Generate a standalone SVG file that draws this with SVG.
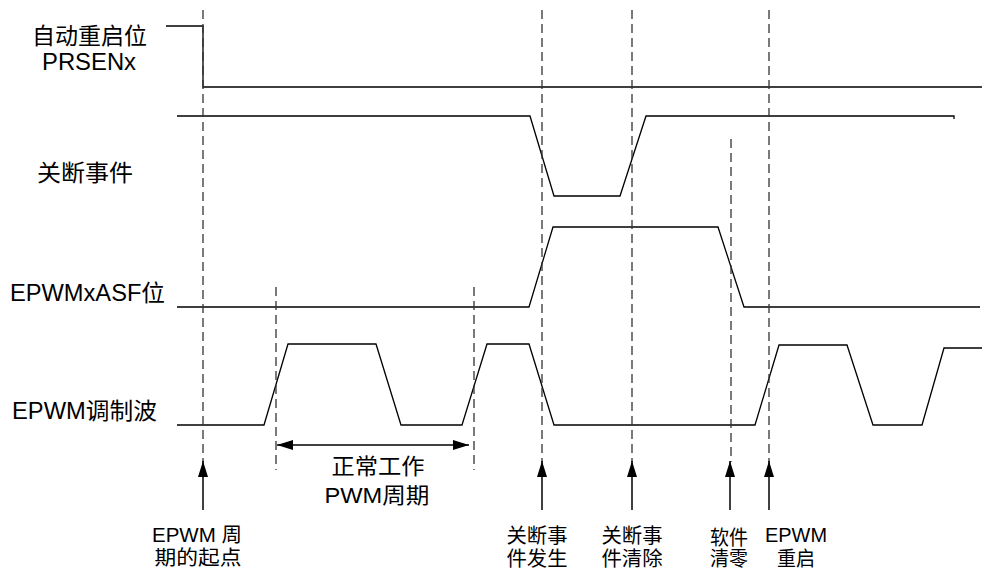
<svg xmlns="http://www.w3.org/2000/svg" width="982" height="570" viewBox="0 0 982 570">
<style>
.sig{fill:none;stroke:#000;stroke-width:1.3;stroke-linejoin:miter}
.dash{fill:none;stroke:#333;stroke-width:1.3;stroke-dasharray:9,5}
.arr{fill:none;stroke:#000;stroke-width:1.5}
text{font-family:"Liberation Sans","Noto Sans CJK SC",sans-serif;fill:#000}
.lbl{font-size:23px}
.bot{font-size:20px;text-anchor:middle}
.mid{font-size:22px;text-anchor:middle}
</style>
<defs>
<marker id="ah" viewBox="0 0 16 10" refX="16" refY="5" markerWidth="16" markerHeight="10" orient="auto-start-reverse" markerUnits="userSpaceOnUse"><path d="M0,0 L16,5 L0,10 z" fill="#000"/></marker>
</defs>
<rect width="982" height="570" fill="#fff"/>
<g id="labels">
<text class="lbl" x="32" y="44" textLength="115" lengthAdjust="spacingAndGlyphs">自动重启位</text>
<text class="lbl" x="42" y="70" textLength="94" lengthAdjust="spacingAndGlyphs">PRSENx</text>
<text class="lbl" x="37" y="181" textLength="96" lengthAdjust="spacingAndGlyphs">关断事件</text>
<text class="lbl" x="10" y="301" textLength="155" lengthAdjust="spacingAndGlyphs">EPWMxASF位</text>
<text class="lbl" x="12" y="419" textLength="145" lengthAdjust="spacingAndGlyphs">EPWM调制波</text>
</g>
<g id="sig-prsen"><polyline class="sig" points="166,26 203,26 203,87 982,87"/></g>
<g id="sig-shutdown"><polyline class="sig" points="177,116 530,116 554,196 620,196 646,116 954,116 954,119"/></g>
<g id="sig-asf"><polyline class="sig" points="177,307 529,307 553,227 718,227 744,307 980,307"/></g>
<g id="sig-epwm"><polyline class="sig" points="177,425 264,425 288,344 376,344 401,425 462,425 487,344 529,344 554,425 755,425 779,345 847,345 873,425 922,425 944,348 982,348"/></g>
<g id="connectors">
<line class="dash" x1="203" y1="10" x2="203" y2="462"/>
<line class="dash" x1="276" y1="287" x2="276" y2="470"/>
<line class="dash" x1="474" y1="287" x2="474" y2="470"/>
<line class="dash" x1="542" y1="10" x2="542" y2="462"/>
<line class="dash" x1="632" y1="10" x2="632" y2="462"/>
<line class="dash" x1="731" y1="139" x2="731" y2="462"/>
<line class="dash" x1="769" y1="10" x2="769" y2="462"/>
<line class="arr" x1="203" y1="510" x2="203" y2="461" marker-end="url(#ah)"/>
<line class="arr" x1="542" y1="510" x2="542" y2="461" marker-end="url(#ah)"/>
<line class="arr" x1="632" y1="510" x2="632" y2="461" marker-end="url(#ah)"/>
<line class="arr" x1="730" y1="510" x2="730" y2="461" marker-end="url(#ah)"/>
<line class="arr" x1="769" y1="510" x2="769" y2="461" marker-end="url(#ah)"/>
<line class="arr" x1="277" y1="445" x2="469" y2="445" marker-start="url(#ah)" marker-end="url(#ah)"/>
</g>
<g id="period-label">
<text class="mid" x="378" y="474" textLength="93" lengthAdjust="spacingAndGlyphs">正常工作</text>
<text class="mid" x="377" y="503" textLength="105" lengthAdjust="spacingAndGlyphs">PWM周期</text>
</g>
<g id="bottom-labels">
<text class="bot" x="197" y="542" textLength="90" lengthAdjust="spacingAndGlyphs">EPWM 周</text>
<text class="bot" x="198" y="565" textLength="87" lengthAdjust="spacingAndGlyphs">期的起点</text>
<text class="bot" x="537" y="543" textLength="61" lengthAdjust="spacingAndGlyphs">关断事</text>
<text class="bot" x="537" y="566" textLength="61" lengthAdjust="spacingAndGlyphs">件发生</text>
<text class="bot" x="632" y="543" textLength="61" lengthAdjust="spacingAndGlyphs">关断事</text>
<text class="bot" x="632" y="566" textLength="61" lengthAdjust="spacingAndGlyphs">件清除</text>
<text class="bot" x="729" y="545" textLength="38" lengthAdjust="spacingAndGlyphs">软件</text>
<text class="bot" x="729" y="566" textLength="38" lengthAdjust="spacingAndGlyphs">清零</text>
<text class="bot" x="796" y="542" textLength="62" lengthAdjust="spacingAndGlyphs">EPWM</text>
<text class="bot" x="796" y="566" textLength="38" lengthAdjust="spacingAndGlyphs">重启</text>
</g>
</svg>
